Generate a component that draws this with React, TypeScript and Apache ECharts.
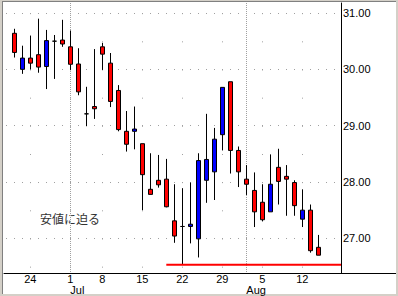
import React, { useEffect, useRef } from "react";
import * as echarts from "echarts";

// Trading days (Jun 20 – Aug 14)
const dates = [
  "06-20", "06-21", "06-24", "06-25", "06-26", "06-27", "06-28",
  "07-01", "07-02", "07-03", "07-05",
  "07-08", "07-09", "07-10", "07-11", "07-12",
  "07-15", "07-16", "07-17", "07-18", "07-19",
  "07-22", "07-23", "07-24", "07-25", "07-26",
  "07-29", "07-30", "07-31", "08-01", "08-02",
  "08-05", "08-06", "08-07", "08-08", "08-09",
  "08-12", "08-13", "08-14",
];
const opens = [
  30.64, 30.0, 30.2, 30.26, 30.05, 30.5, 30.52,
  30.4, 30.095, 29.21, 29.34,
  30.4, 30.11, 29.625, 28.9, 28.9,
  28.68, 27.87, 28.03, 28.05, 27.31,
  27.21, 27.21, 26.99, 28.03, 28.18,
  28.84, 29.78, 28.56, 28.05, 27.85,
  27.64, 27.47, 28.26, 28.1, 27.99,
  27.34, 27.5, 26.84,
];
const closes = [
  30.3, 30.2, 30.11, 30.04, 30.51, 30.5, 30.45,
  30.09, 29.6, 29.21, 29.3,
  30.27, 29.43, 28.93, 28.67, 28.94,
  28.13, 27.78, 27.95, 27.56, 27.04,
  27.21, 27.25, 28.38, 28.4, 28.76,
  29.68, 28.56, 28.18, 27.96, 27.47,
  27.33, 27.96, 28.01, 28.05, 27.58,
  27.5, 26.78, 26.7,
];
const lows = [
  30.21, 29.92, 30.0, 29.94, 29.65, 29.83, 30.4,
  29.99, 29.54, 28.99, 29.12,
  29.99, 29.33, 28.9, 28.54, 28.58,
  27.5, 27.78, 27.9, 27.55, 26.92,
  26.53, 26.91, 26.66, 27.63, 27.68,
  28.56, 28.15, 27.91, 27.77, 27.2,
  27.3, 27.47, 27.6, 27.4, 27.4,
  27.2, 26.745, 26.7,
];
const highs = [
  30.72, 30.42, 30.6, 30.9, 30.7, 30.61, 30.88,
  30.69, 30.375, 29.69, 30.36,
  30.47, 30.29, 29.72, 29.26, 29.34,
  28.68, 28.51, 28.48, 28.41, 27.96,
  27.89, 27.99, 28.51, 29.21, 28.96,
  29.68, 29.78, 28.63, 28.3, 28.17,
  27.96, 28.49, 28.59, 28.3, 28.03,
  27.87, 27.6, 27.06,
];

// Axis ticks / labels
const weekTickIndex = [2, 7, 11, 16, 21, 26, 31, 36];
const weekTickLabel = ["24", "1", "8", "15", "22", "29", "5", "12"];
const monthTickIndex = [7, 29];
const monthTickLabel = ["Jul", "Aug"];
const priceTicks = [27, 28, 29, 30, 31];

// Support line
const supportLevel = 26.53;
const supportStartIndex = 19;
const annotationText = "安値に迫る";

const X_MIN = -1.2875;
const X_MAX = 40.8375;
const Y_MIN = 26.384;
const Y_MAX = 31.178;

const FONT = "'Liberation Sans', Arial, sans-serif";

export default function App() {
  const ref = useRef<HTMLDivElement | null>(null);

  useEffect(() => {
    if (!ref.current) return;
    const chart = echarts.init(ref.current, null, { renderer: "svg" });

    const candleData = dates.map((_, i) => [i, opens[i], closes[i], lows[i], highs[i]]);

    const labelFor = (idxs: number[], labels: string[]) => (v: number) => {
      const k = idxs.findIndex((t) => Math.abs(t - v) < 1e-6);
      return k >= 0 ? labels[k] : "";
    };

    chart.setOption({
      animation: false,
      backgroundColor: "#ffffff",
      grid: { left: 4, top: 3, width: 337, height: 270, containLabel: false },
      xAxis: [
        {
          type: "value",
          position: "bottom",
          min: X_MIN,
          max: X_MAX,
          axisLine: { show: true, onZero: false, lineStyle: { color: "#000", width: 1 } },
          axisTick: { show: false, customValues: weekTickIndex },
          axisLabel: {
            customValues: weekTickIndex,
            formatter: labelFor(weekTickIndex, weekTickLabel),
            margin: 1,
            lineHeight: 10,
            color: "#000",
            fontSize: 11,
            fontFamily: FONT,
          },
          splitLine: {
            show: true,
            lineStyle: { color: "#a0a0a0", width: 1, type: [1, 27.165], dashOffset: 18.165 },
          },
        },
        {
          type: "value",
          position: "bottom",
          offset: 0,
          min: X_MIN,
          max: X_MAX,
          axisLine: { show: false, onZero: false },
          axisTick: { show: false, customValues: monthTickIndex },
          axisLabel: {
            customValues: monthTickIndex,
            formatter: labelFor(monthTickIndex, monthTickLabel),
            margin: 12,
            lineHeight: 10,
            align: "left",
            color: "#000",
            fontSize: 11,
            fontFamily: FONT,
          },
          splitLine: {
            show: true,
            lineStyle: { color: "#a0a0a0", width: 1, type: [1, 1] },
          },
        },
      ],
      yAxis: {
        type: "value",
        position: "right",
        min: Y_MIN,
        max: Y_MAX,
        axisLine: { show: true, onZero: false, lineStyle: { color: "#000", width: 1 } },
        axisTick: { show: false, customValues: priceTicks },
        axisLabel: {
          customValues: priceTicks,
          formatter: (v: number) => v.toFixed(2),
          margin: 2,
          color: "#000",
          fontSize: 11,
          fontFamily: FONT,
        },
        splitLine: {
          show: true,
          lineStyle: { color: "#a0a0a0", width: 1, type: [1, 7], dashOffset: 6 },
        },
      },
      series: [
        {
          type: "candlestick",
          xAxisIndex: 0,
          yAxisIndex: 0,
          data: candleData,
          encode: { x: 0, y: [1, 2, 3, 4] },
          barWidth: 4,
          itemStyle: {
            color: "#0000ff",
            color0: "#ff0000",
            borderColor: "#000000",
            borderColor0: "#000000",
            borderColorDoji: "#000000",
            borderWidth: 1,
          },
          emphasis: { disabled: true },
          silent: true,
        },
        {
          type: "line",
          xAxisIndex: 0,
          yAxisIndex: 0,
          data: [
            [supportStartIndex, supportLevel],
            [X_MAX, supportLevel],
          ],
          showSymbol: false,
          symbol: "none",
          lineStyle: { color: "#ff0000", width: 2 },
          silent: true,
          z: 3,
        },
      ],
      graphic: [
        {
          type: "text",
          left: 40,
          top: 212,
          style: {
            text: annotationText,
            font: "12px 'Noto Sans CJK JP', sans-serif",
            fill: "#333333",
          },
        },
        // bottom axis line continuation under the price scale
        { type: "line", shape: { x1: 341, y1: 273.5, x2: 396, y2: 273.5 }, style: { stroke: "#000", lineWidth: 1 } },
        // window frame
        { type: "rect", shape: { x: 0, y: 0, width: 2, height: 296 }, style: { fill: "#d4d0c8" } },
        { type: "rect", shape: { x: 0, y: 0, width: 398, height: 1 }, style: { fill: "#d4d0c8" } },
        { type: "line", shape: { x1: 2.5, y1: 1, x2: 2.5, y2: 294 }, style: { stroke: "#808080", lineWidth: 1 } },
        { type: "line", shape: { x1: 2, y1: 1.5, x2: 396, y2: 1.5 }, style: { stroke: "#808080", lineWidth: 1 } },
        { type: "rect", shape: { x: 396, y: 0, width: 2, height: 296 }, style: { fill: "#d4d0c8" } },
        { type: "rect", shape: { x: 0, y: 294, width: 398, height: 2 }, style: { fill: "#d4d0c8" } },
      ],
    });

    return () => chart.dispose();
  }, []);

  return (
    <div
      ref={ref}
      style={{ position: "fixed", left: 0, top: 0, width: 398, height: 296, background: "#fff" }}
    />
  );
}
